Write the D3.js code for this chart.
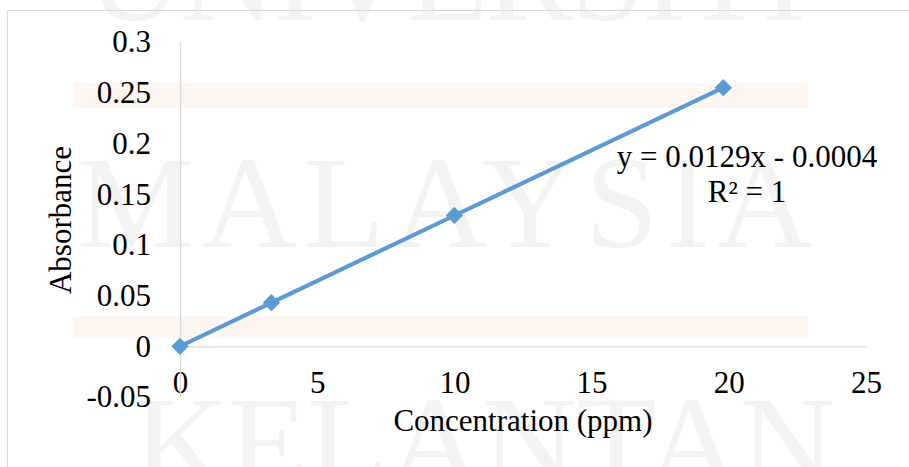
<!DOCTYPE html>
<html>
<head>
<meta charset="utf-8">
<script src="https://cdn.jsdelivr.net/npm/d3@7"></script>
<style>
    body { margin: 0; background: #fff; }
    svg { display: block; background: #fff; }
    text { font-family: "Liberation Serif", "Times New Roman", serif; }
</style>
</head>
<body>
<script>
    // Data
    var concentration = [0, 3.33, 10, 19.8];
    var absorbance = [0, 0.043, 0.129, 0.255];
    var xTicks = [0, 5, 10, 15, 20, 25];
    var yTicks = [-0.05, 0, 0.05, 0.1, 0.15, 0.2, 0.25, 0.3];
    var slope = 0.0129, intercept = -0.0004;
    var equationLines = ["y = 0.0129x - 0.0004", "R\u00B2 = 1"];
    var watermarkWords = ["UNIVERSITI", "MALAYSIA", "KELANTAN"];

    var SVGWidth = 909, SVGHeight = 467;
    var blue = "#5b9bd5";
    var fontSize = 31;

    var svg = d3.select("body").append("svg")
        .attr("width", SVGWidth)
        .attr("height", SVGHeight);

    // faint background watermark (part of the scanned page)
    var wm = svg.append("g").attr("class", "watermark");
    wm.append("rect").attr("x", 73).attr("y", 83).attr("width", 735).attr("height", 25).attr("fill", "#fef6f0");
    wm.append("rect").attr("x", 73).attr("y", 316).attr("width", 735).attr("height", 22).attr("fill", "#fef6f0");
    var wmPos = [[87, 20, 719], [77, 247, 735], [133, 487, 702]];
    watermarkWords.forEach(function(w, i) {
        wm.append("text")
            .attr("x", wmPos[i][0])
            .attr("y", wmPos[i][1])
            .attr("textLength", wmPos[i][2])
            .attr("lengthAdjust", "spacing")
            .style("font-size", "132px")
            .style("fill", "#f3f3f3")
            .text(w);
    });

    // chart border
    svg.append("rect")
        .attr("x", 7.5).attr("y", 10.5)
        .attr("width", 950).attr("height", 500)
        .attr("fill", "none")
        .attr("stroke", "#d9d9d9");

    // Scales
    var x = d3.scaleLinear().domain([0, 25]).range([180, 866]);
    var y = d3.scaleLinear().domain([-0.05, 0.3]).range([397, 42]);

    // Axes
    var xAxis = svg.append("g")
        .attr("transform", "translate(0," + y(0) + ")")
        .call(d3.axisBottom(x).tickValues(xTicks).tickSize(0).tickPadding(25).tickFormat(d3.format("d")));
    var yAxis = svg.append("g")
        .attr("transform", "translate(" + x(0) + ",0)")
        .call(d3.axisLeft(y).tickValues(yTicks).tickSize(0).tickPadding(29).tickFormat(function(d) { return String(+d.toFixed(2)); }));

    [xAxis, yAxis].forEach(function(a) {
        a.select(".domain").attr("stroke", "#d9d9d9").attr("stroke-width", 1.3);
        a.selectAll("text")
            .style("font-family", '"Liberation Serif", "Times New Roman", serif')
            .style("font-size", fontSize + "px")
            .attr("fill", "#000");
    });

    // Axis titles
    svg.append("text")
        .attr("x", 523).attr("y", 431)
        .style("text-anchor", "middle")
        .style("font-size", fontSize + "px")
        .text("Concentration (ppm)");

    svg.append("text")
        .attr("transform", "translate(71,220) rotate(-90)")
        .style("text-anchor", "middle")
        .style("font-size", fontSize + "px")
        .text("Absorbance");

    var pts = concentration.map(function(c, i) { return [c, absorbance[i]]; });

    // Series line
    var line = d3.line().x(function(d) { return x(d[0]); }).y(function(d) { return y(d[1]); });
    svg.append("path")
        .datum(pts)
        .attr("d", line)
        .attr("fill", "none")
        .attr("stroke", blue)
        .attr("stroke-width", 4);

    // Linear trendline over the data range
    var xExt = d3.extent(concentration);
    svg.append("path")
        .datum(xExt.map(function(c) { return [c, slope * c + intercept]; }))
        .attr("d", line)
        .attr("fill", "none")
        .attr("stroke", blue)
        .attr("stroke-width", 3);

    // Diamond markers
    svg.selectAll(".dot")
        .data(pts)
        .enter().append("path")
        .attr("class", "dot")
        .attr("d", d3.symbol().type(d3.symbolSquare).size(150))
        .attr("transform", function(d) { return "translate(" + x(d[0]) + "," + y(d[1]) + ") rotate(45)"; })
        .attr("fill", blue);

    // Trendline equation
    svg.selectAll(".eq")
        .data(equationLines)
        .enter().append("text")
        .attr("class", "eq")
        .attr("x", 747)
        .attr("y", function(d, i) { return 167 + i * 35; })
        .style("text-anchor", "middle")
        .style("font-size", fontSize + "px")
        .text(function(d) { return d; });
</script>
</body>
</html>
